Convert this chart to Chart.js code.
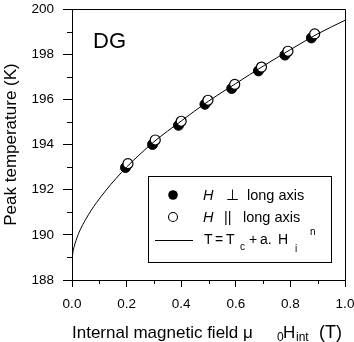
<!DOCTYPE html>
<html>
<head>
<meta charset="utf-8">
<script src="https://cdn.jsdelivr.net/npm/chart.js@4"></script>
<style>
  html, body { margin: 0; padding: 0; background: #fff; }
  #wrap { width: 354px; height: 342px; }
</style>
</head>
<body>
<div id="wrap"><canvas id="chart"></canvas></div>
<script>
// ---- data ----
const fieldPerp = [0.196, 0.295, 0.390, 0.487, 0.585, 0.683, 0.780, 0.877];
const tempPerp  = [192.98, 194.00, 194.85, 195.78, 196.48, 197.26, 197.96, 198.72];
const fieldPar  = [0.205, 0.305, 0.400, 0.498, 0.596, 0.694, 0.791, 0.889];
const tempPar   = [193.15, 194.20, 195.03, 195.96, 196.66, 197.43, 198.13, 198.90];
const fitField  = [0, 0.003, 0.008, 0.015, 0.03, 0.05, 0.07, 0.09, 0.125, 0.16, 0.2, 0.25, 0.3, 0.4, 0.5, 0.6, 0.7, 0.8, 0.9, 1.0];
const fitTemp   = [188.8, 189.2, 189.48, 189.76, 190.22, 190.68, 191.08, 191.43, 191.98, 192.48, 193.0, 193.58, 194.12, 195.04, 195.92, 196.7, 197.47, 198.2, 198.9, 199.5];
const xMinorTicks = [0.1, 0.3, 0.5, 0.7, 0.9];
const yMinorTicks = [189, 191, 193, 195, 197, 199];

const FONT = "'Liberation Sans', Arial, sans-serif";

function toPoints(xs, ys) {
    return xs.map((x, i) => ({ x: x, y: ys[i] }));
}

// frame, minor ticks, label, legend, x title
const extras = {
    id: 'extras',
    afterDraw(chart) {
        const ctx = chart.ctx;
        const a = chart.chartArea;
        const sx = chart.scales.x;
        const sy = chart.scales.y;
        ctx.save();
        ctx.strokeStyle = '#000';
        ctx.fillStyle = '#000';
        ctx.lineWidth = 1;

        // top and right frame
        ctx.beginPath();
        ctx.moveTo(a.left, Math.round(a.top) + 0.5);
        ctx.lineTo(Math.round(a.right) + 0.5, Math.round(a.top) + 0.5);
        ctx.lineTo(Math.round(a.right) + 0.5, a.bottom);
        ctx.stroke();

        // minor ticks
        ctx.beginPath();
        yMinorTicks.forEach(v => {
            const y = Math.round(sy.getPixelForValue(v)) + 0.5;
            ctx.moveTo(a.left - 5, y);
            ctx.lineTo(a.left, y);
        });
        xMinorTicks.forEach(v => {
            const x = Math.round(sx.getPixelForValue(v)) + 0.5;
            ctx.moveTo(x, a.bottom);
            ctx.lineTo(x, a.bottom + 4);
        });
        ctx.stroke();

        // DG label
        ctx.font = '22px ' + FONT;
        ctx.textBaseline = 'alphabetic';
        ctx.textAlign = 'left';
        ctx.fillText('DG', 93, 48);

        // legend box
        ctx.strokeRect(148.5, 176.5, 183, 86);
        const big = '14.5px ' + FONT;
        const ital = 'italic 14.5px ' + FONT;
        const mid = '14px ' + FONT;
        const small = '10px ' + FONT;

        ctx.beginPath();
        ctx.arc(173, 195, 4.8, 0, Math.PI * 2);
        ctx.fill();
        ctx.font = ital; ctx.fillText('H', 203, 200);
        ctx.font = big; ctx.fillText('\u22A5', 226, 200);
        ctx.fillText('long axis', 247, 200);

        ctx.beginPath();
        ctx.arc(173, 217, 4.5, 0, Math.PI * 2);
        ctx.fillStyle = '#fff'; ctx.fill();
        ctx.fillStyle = '#000'; ctx.lineWidth = 1.1; ctx.stroke();
        ctx.font = ital; ctx.fillText('H', 203, 222);
        ctx.font = big; ctx.fillText('||', 224, 222);
        ctx.fillText('long axis', 243, 222);

        ctx.lineWidth = 1;
        ctx.beginPath();
        ctx.moveTo(155, 240.5); ctx.lineTo(193, 240.5);
        ctx.stroke();
        ctx.font = mid;
        ctx.fillText('T', 204, 244);
        ctx.fillText('=', 215, 244);
        ctx.fillText('T', 226, 244);
        ctx.fillText('+', 249, 244);
        ctx.fillText('a.', 260, 244);
        ctx.fillText('H', 278, 244);
        ctx.font = small;
        ctx.fillText('c', 240, 250);
        ctx.fillText('i', 295, 252);
        ctx.fillText('n', 310, 235);

        // x axis title with subscripts
        const tf = '17px ' + FONT;
        const sf = '12px ' + FONT;
        const base = 338;
        ctx.font = tf; ctx.fillText('Internal magnetic field \u03BC', 72, base);
        ctx.font = sf; ctx.fillText('0', 277, base + 3);
        ctx.font = tf; ctx.fillText('H', 283, base);
        ctx.font = sf; ctx.fillText('int', 296, base + 3);
        ctx.font = '18px ' + FONT;
        ctx.fillText('(T)', 319, base);

        ctx.restore();
    }
};

new Chart(document.getElementById('chart'), {
    type: 'scatter',
    data: {
        datasets: [
            {
                label: 'T = Tc + a. Hi^n',
                data: toPoints(fitField, fitTemp),
                showLine: true,
                borderColor: '#000',
                borderWidth: 1,
                pointRadius: 0,
                cubicInterpolationMode: 'monotone'
            },
            {
                label: 'H || long axis',
                data: toPoints(fieldPar, tempPar),
                pointRadius: 5,
                pointBackgroundColor: '#fff',
                pointBorderColor: '#000',
                pointBorderWidth: 1.2
            },
            {
                label: 'H \u22A5 long axis',
                data: toPoints(fieldPerp, tempPerp),
                pointRadius: 5,
                pointBackgroundColor: '#000',
                pointBorderColor: '#000',
                pointBorderWidth: 1
            }
        ]
    },
    options: {
        responsive: true,
        maintainAspectRatio: false,
        animation: false,
        layout: { padding: { top: 9, right: 9, left: 0, bottom: 0 } },
        plugins: {
            legend: { display: false },
            tooltip: { enabled: false }
        },
        scales: {
            x: {
                type: 'linear',
                min: 0,
                max: 1,
                ticks: {
                    stepSize: 0.2,
                    color: '#000',
                    padding: 9,
                    maxRotation: 0,
                    font: { family: FONT, size: 13.5 },
                    callback: v => v.toFixed(1)
                },
                grid: { display: true, drawOnChartArea: false, color: '#000', tickLength: 7, lineWidth: 1 },
                border: { display: true, color: '#000', width: 1 },
                afterFit: s => { s.height = 62; s.paddingLeft = 0; s.paddingRight = 0; }
            },
            y: {
                min: 188,
                max: 200,
                ticks: {
                    stepSize: 2,
                    color: '#000',
                    padding: 9,
                    font: { family: FONT, size: 13.5 }
                },
                grid: { display: true, drawOnChartArea: false, color: '#000', tickLength: 9, lineWidth: 1 },
                border: { display: true, color: '#000', width: 1 },
                title: {
                    display: true,
                    text: 'Peak temperature (K)',
                    color: '#000',
                    font: { family: FONT, size: 17 },
                    padding: { top: 1, bottom: 0 }
                },
                afterFit: s => { s.width = 72; s.paddingTop = 0; s.paddingBottom = 0; }
            }
        }
    },
    plugins: [extras]
});
</script>
</body>
</html>
